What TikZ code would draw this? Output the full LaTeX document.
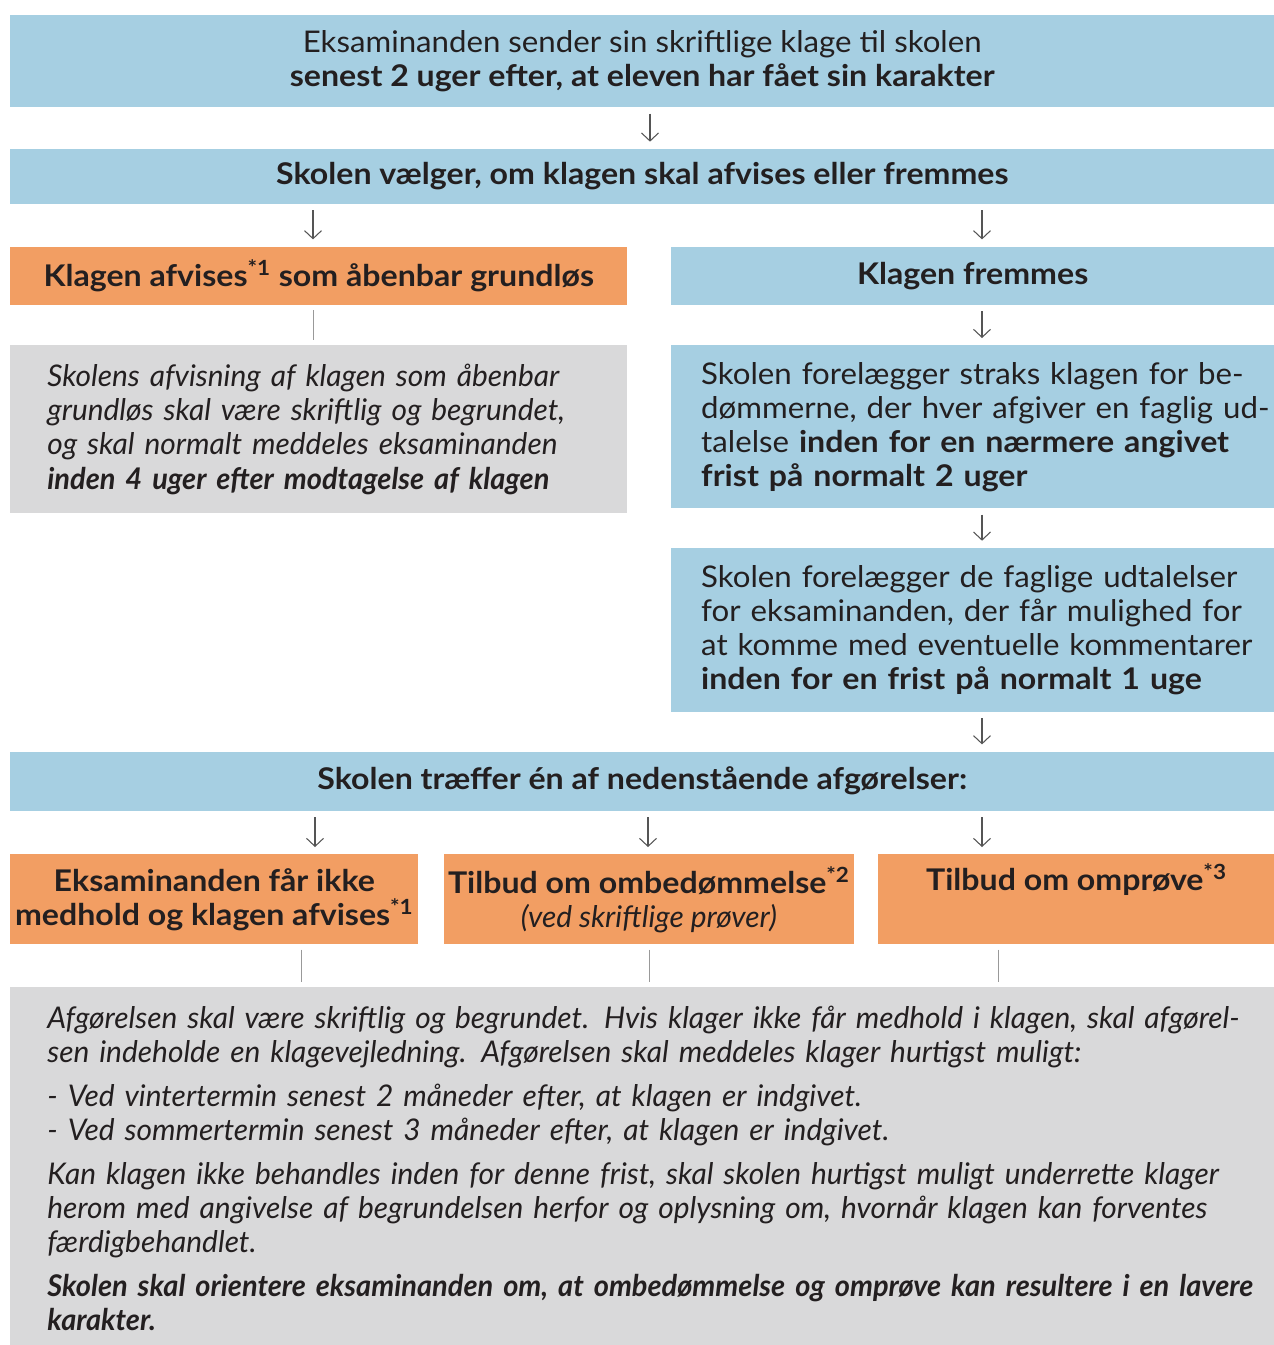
\documentclass[tikz,border=0pt]{standalone}
\usepackage{fontspec}
\setmainfont{Lato}[
    UprightFeatures={FakeStretch=1.045},
    BoldFeatures={FakeStretch=1.075},
    BoldItalicFeatures={FakeStretch=0.97}]
\usetikzlibrary{positioning, calc, arrows.meta}

\definecolor{boxblue}{HTML}{A6CFE2}
\definecolor{boxorange}{HTML}{F29E63}
\definecolor{boxgrey}{HTML}{D9D9DA}
\definecolor{txtdark}{HTML}{231F20}
\definecolor{arrgrey}{HTML}{555555}

\begin{document}
\begin{tikzpicture}[
          x=0.02cm, y=-0.02cm,
          box/.style={
              rectangle, inner sep=0pt, align=center, text=txtdark,
              font=\fontsize{17}{19.4}\selectfont
          },
          bluebox/.style={box, fill=boxblue},
          orangebox/.style={box, fill=boxorange},
          leftbox/.style={box, fill=boxblue, align=left, inner xsep=0.6cm},
          notebox/.style={box, fill=boxgrey, align=left, inner xsep=0.74cm,
              font=\fontsize{17}{19.4}\selectfont\itshape},
          >={Straight Barb[length=1.6mm, width=3.4mm]},
          arr/.style={->, draw=arrgrey, line width=0.6pt,
              shorten <=0.12cm, shorten >=0.14cm},
          link/.style={draw=arrgrey!60, line width=0.5pt,
              shorten <=0.1cm, shorten >=0.1cm},
      ]
          \useasboundingbox (0,0) rectangle (1274,1345);

          % Top of the chain
          \node [bluebox, minimum width=25.28cm, minimum height=1.84cm, anchor=north west]
              (sender) at (10,15)
              {Eksaminanden sender sin skriftlige klage til skolen\\
               \textbf{senest 2 uger efter, at eleven har fået sin karakter}};
          \node [bluebox, minimum width=25.28cm, minimum height=1.1cm, below=0.82cm of sender]
              (vaelger) {\textbf{Skolen vælger, om klagen skal afvises eller fremmes}};

          % Left column
          \node [orangebox, minimum width=12.34cm, minimum height=1.16cm,
              below right=0.84cm and 0cm of vaelger.south west]
              (afvises) {\textbf{Klagen afvises\textsuperscript{*1} som åbenbar grundløs}};
          \node [notebox, text width=10.86cm, minimum height=3.36cm, below=0.8cm of afvises]
              (afvisning) {Skolens afvisning af klagen som åbenbar\\
               grundløs skal være skriftlig og begrundet,\\
               og skal normalt meddeles eksaminanden\\
               \textbf{inden 4 uger efter modtagelse af klagen}};

          % Right column
          \node [bluebox, minimum width=12.06cm, minimum height=1.16cm,
              below left=0.84cm and 0cm of vaelger.south east]
              (fremmes) {\textbf{Klagen fremmes}};
          \node [leftbox, text width=11.6cm, minimum height=3.26cm,
              below right=0.8cm and 0cm of fremmes.south west]
              (udtalelse) {Skolen forelægger straks klagen for be-\\
               dømmerne, der hver afgiver en faglig ud-\\
               talelse \textbf{inden for en nærmere angivet}\\
               \textbf{frist på normalt 2 uger}};
          \node [leftbox, text width=11.6cm, minimum height=3.28cm,
              below right=0.78cm and 0cm of udtalelse.south west]
              (kommentar) {Skolen forelægger de faglige udtalelser\\
               for eksaminanden, der får mulighed for\\
               at komme med eventuelle kommentarer\\
               \textbf{inden for en frist på normalt 1 uge}};

          % Decision
          \node [bluebox, minimum width=25.28cm, minimum height=1.18cm,
              below=0.78cm of kommentar.south -| vaelger]
              (traeffer) {\textbf{Skolen træffer én af nedenstående afgørelser:}};
          \node [orangebox, minimum width=8.16cm, minimum height=1.8cm,
              below right=0.86cm and 0cm of traeffer.south west]
              (medhold) {\textbf{Eksaminanden får ikke}\\
               \textbf{medhold og klagen afvises\textsuperscript{*1}}};
          \node [orangebox, minimum width=8.2cm, minimum height=1.8cm, right=0.5cm of medhold]
              (ombed) {\textbf{Tilbud om ombedømmelse\textsuperscript{*2}}\\
               \textit{(ved skriftlige prøver)}};
          \node [orangebox, minimum width=7.96cm, minimum height=1.8cm, right=0.46cm of ombed]
              (omproeve) {\textbf{Tilbud om omprøve\textsuperscript{*3}}\\ \strut};
          \node [notebox, text width=25.2cm, minimum height=7.26cm,
              below right=0.84cm and 0cm of medhold.south west]
              (afgoerelse) {Afgørelsen skal være skriftlig og begrundet. Hvis klager ikke får medhold i klagen, skal afgørel-\\
               sen indeholde en klagevejledning. Afgørelsen skal meddeles klager hurtigst muligt:\\[0.2cm]
               - Ved vintertermin senest 2 måneder efter, at klagen er indgivet.\\
               - Ved sommertermin senest 3 måneder efter, at klagen er indgivet.\\[0.2cm]
               Kan klagen ikke behandles inden for denne frist, skal skolen hurtigst muligt underrette klager\\
               herom med angivelse af begrundelsen herfor og oplysning om, hvornår klagen kan forventes\\
               færdigbehandlet.\\[0.2cm]
               \textbf{Skolen skal orientere eksaminanden om, at ombedømmelse og omprøve kan resultere i en lavere}\\
               \textbf{karakter.}};

          % Arrows
          \draw [arr] (sender.south -| 650,0) -- (vaelger.north -| 650,0);
          \draw [arr] (vaelger.south -| 313,0) -- (afvises.north -| 313,0);
          \draw [arr] (vaelger.south -| 982,0) -- (fremmes.north -| 982,0);
          \draw [link] (afvises.south -| 313,0) -- (afvisning.north -| 313,0);
          \draw [arr] (fremmes.south -| 982,0) -- (udtalelse.north -| 982,0);
          \draw [arr] (udtalelse.south -| 982,0) -- (kommentar.north -| 982,0);
          \draw [arr] (kommentar.south -| 982,0) -- (traeffer.north -| 982,0);
          \draw [arr] (traeffer.south -| 315,0) -- (medhold.north -| 315,0);
          \draw [arr] (traeffer.south -| 648,0) -- (ombed.north -| 648,0);
          \draw [arr] (traeffer.south -| 982,0) -- (omproeve.north -| 982,0);
          \draw [link] (medhold.south -| 301,0) -- (afgoerelse.north -| 301,0);
          \draw [link] (ombed.south -| 649,0) -- (afgoerelse.north -| 649,0);
          \draw [link] (omproeve.south -| 998,0) -- (afgoerelse.north -| 998,0);
\end{tikzpicture}
\end{document}
